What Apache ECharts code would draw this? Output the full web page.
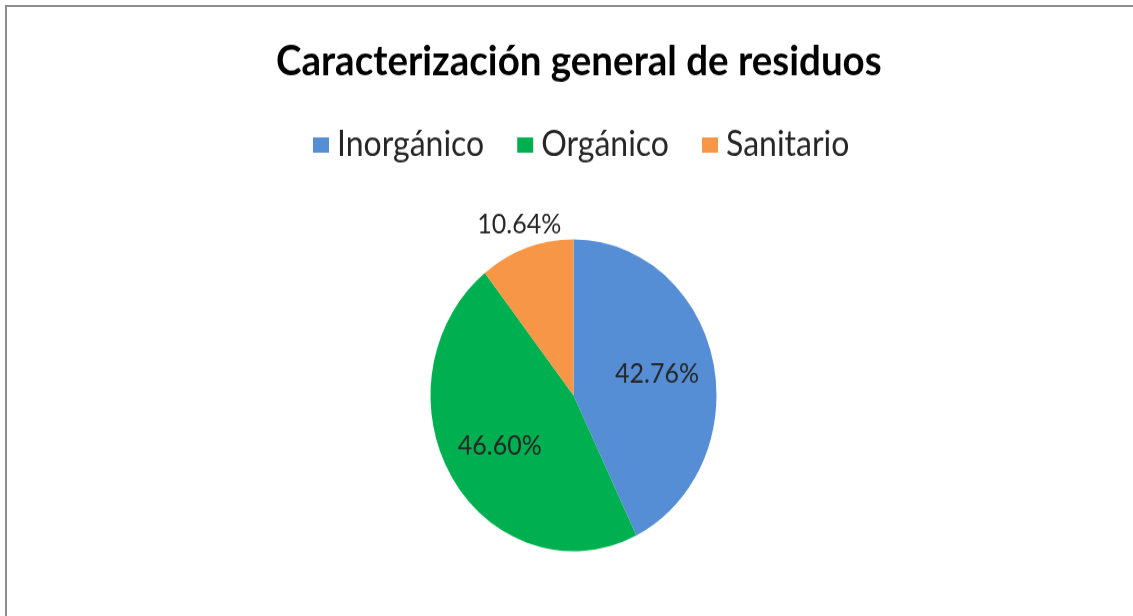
<!DOCTYPE html>
<html>
<head>
<meta charset="utf-8">
<script src="https://cdn.jsdelivr.net/npm/echarts@6/dist/echarts.min.js"></script>
<style>
    html, body { margin: 0; padding: 0; background: #fff; overflow: hidden; }
    .frame {
        position: absolute;
        left: 5px;
        top: 5px;
        width: 1200px;
        height: 700px;
        border: 2px solid #8c8c8c;
    }
    /* the source picture is stretched a little vertically */
    #chart {
        position: absolute;
        left: 0;
        top: 0;
        width: 1133px;
        height: 565px;
        transform: scaleY(1.0905);
        transform-origin: 0 0;
    }
</style>
</head>
<body>
<div class="frame"></div>
<div id="chart"></div>
<script>
    const titleText = 'Caracterización general de residuos'
    const categories = ['Inorgánico', 'Orgánico', 'Sanitario']
    const percents = [42.76, 46.60, 10.64]
    const colors = ['#558ed5', '#00b050', '#f79646']

    // how far out each label sits, relative to the default half-radius
    const labelReach = [1.15, 1.17, 2.22]
    const cx = 573.5
    const cy = 362.5

    const chart = echarts.init(document.getElementById('chart'))
    chart.setOption({
        animation: false,
        title: {
            text: titleText,
            left: 271,
            top: 32,
            textStyle: { fontFamily: 'Lato', fontWeight: 'bold', fontSize: 38.5, color: '#000' }
        },
        legend: {
            data: categories,
            left: 308,
            top: 112,
            icon: 'rect',
            itemWidth: 16,
            itemHeight: 14,
            itemGap: 33,
            textStyle: { fontFamily: 'Lato', fontSize: 32, color: '#262626', padding: [0, 0, 0, 3] }
        },
        series: [{
            type: 'pie',
            center: [cx, cy],
            radius: [0, 143],
            startAngle: 90,
            clockwise: true,
            avoidLabelOverlap: false,
            data: categories.map((name, i) => ({
                name,
                value: percents[i],
                itemStyle: { color: colors[i] }
            })),
            itemStyle: { borderWidth: 0 },
            label: {
                show: true,
                position: 'inside',
                fontFamily: 'Lato',
                fontSize: 25,
                color: '#262626',
                formatter: p => p.value.toFixed(2) + '%'
            },
            labelLine: { show: false },
            labelLayout: params => {
                const r = params.labelRect
                const lx = r.x + r.width / 2
                const ly = r.y + r.height / 2
                const k = labelReach[params.dataIndex]
                return {
                    x: cx + (lx - cx) * k,
                    y: cy + (ly - cy) * k,
                    align: 'center',
                    verticalAlign: 'middle'
                }
            },
            emphasis: { disabled: true }
        }]
    })
</script>
</body>
</html>
